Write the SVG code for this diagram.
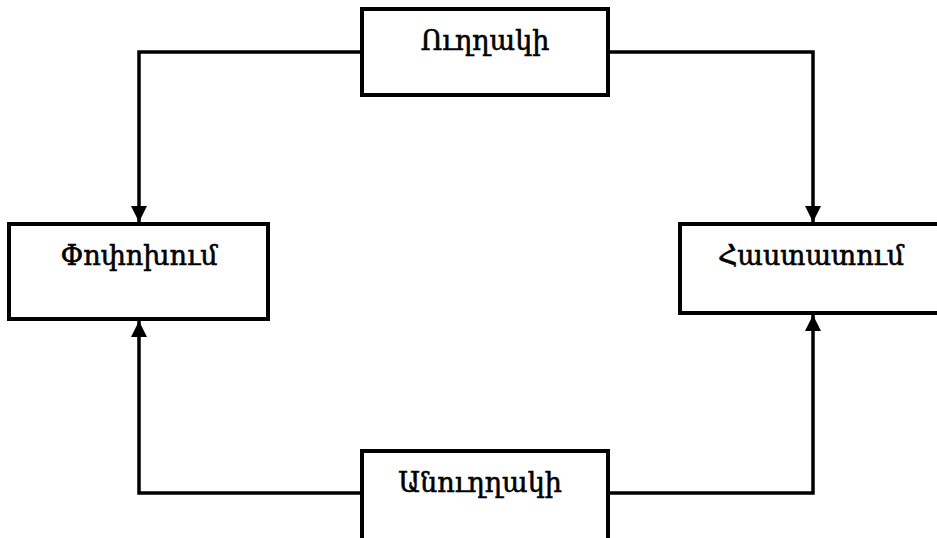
<svg xmlns="http://www.w3.org/2000/svg" width="937" height="538" viewBox="0 0 937 538">
  <defs>
    <marker id="arrow" viewBox="0 0 16 16" refX="16" refY="8" markerWidth="16" markerHeight="16" markerUnits="userSpaceOnUse" orient="auto">
      <path d="M0,0 L16,8 L0,16 Z" fill="#000"/>
    </marker>
    <style>
      .box { fill: #fff; stroke: #000; stroke-width: 4; }
      .label { font-family: "DejaVu Serif", "DejaVu Sans", serif; font-size: 27px; fill: #000; stroke: #000; stroke-width: 0.6; text-anchor: middle; }
      .link { fill: none; stroke: #000; stroke-width: 3.5; marker-end: url(#arrow); }
    </style>
  </defs>
  <rect width="937" height="538" fill="#fff"/>

  <g id="connectors">
    <path class="link" d="M362,52 H139 V222"/>
    <path class="link" d="M608,52 H813 V222"/>
    <path class="link" d="M362,493 H139 V321"/>
    <path class="link" d="M608,493 H813 V315"/>
  </g>

  <g id="node-direct">
    <rect class="box" x="362" y="9" width="246" height="86"/>
    <text class="label" x="485" y="50">Ուղղակի</text>
  </g>

  <g id="node-change">
    <rect class="box" x="9" y="224" width="259" height="95"/>
    <text class="label" x="139" y="265">Փոփոխում</text>
  </g>

  <g id="node-confirm">
    <rect class="box" x="680" y="224" width="264" height="89"/>
    <text class="label" x="811" y="265">Հաստատում</text>
  </g>

  <g id="node-indirect">
    <rect class="box" x="362" y="451" width="246" height="95"/>
    <text class="label" x="480" y="492">Անուղղակի</text>
  </g>
</svg>
